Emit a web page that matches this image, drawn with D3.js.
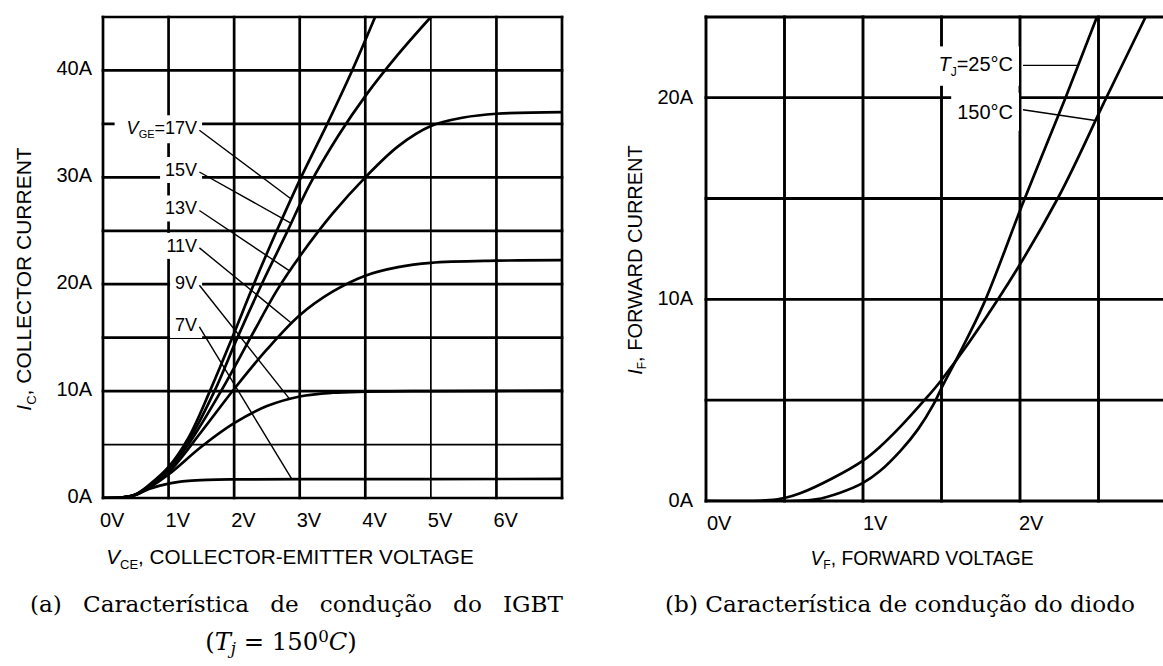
<!DOCTYPE html>
<html>
<head>
<meta charset="utf-8">
<script src="https://cdn.jsdelivr.net/npm/d3@7"></script>
<style>
  body { margin: 0; background: #fff; }
  svg { display: block; }
</style>
</head>
<body>
<svg id="chart" width="1163" height="666"></svg>
<script>
// IGBT output characteristic (Tj = 150°C) and diode forward characteristic
// Points: [volts, amps]

const igbtGateLabels = ['17V', '15V', '13V', '11V', '9V', '7V'];
const igbt17V = [[0, 0], [0.3, 0.05], [0.5, 0.35], [0.7, 1.2], [1.0, 2.9], [1.3, 5.6], [1.63, 10], [1.97, 15], [2.3, 20], [2.65, 25], [3.02, 30], [3.42, 35], [3.8, 40], [4.15, 45]];
const igbt15V = [[0, 0], [0.3, 0.05], [0.5, 0.33], [0.7, 1.15], [1.0, 2.8], [1.3, 5.3], [1.7, 10], [2.05, 15], [2.42, 20], [2.8, 24.8], [3.15, 29.3], [3.6, 34.0], [4.0, 37.6], [4.5, 41.5], [5.0, 45]];
const igbt13V = [[0, 0], [0.3, 0.05], [0.5, 0.3], [0.7, 1.1], [1.0, 2.7], [1.3, 5.0], [1.8, 10], [2.25, 15], [2.65, 19.4], [3.0, 22.6], [3.5, 26.6], [4.0, 30], [4.5, 32.9], [5.0, 34.8], [5.5, 35.6], [6.0, 35.95], [7.0, 36.1]];
const igbt11V = [[0, 0], [0.3, 0.05], [0.5, 0.3], [0.7, 1.0], [1.0, 2.4], [1.5, 6.2], [2.0, 10.2], [2.5, 13.9], [3.0, 17.1], [3.5, 19.3], [4.0, 20.8], [4.5, 21.6], [5.0, 22.0], [6.0, 22.2], [7.0, 22.25]];
const igbt9V = [[0, 0], [0.3, 0.05], [0.5, 0.3], [0.7, 0.95], [1.0, 2.2], [1.5, 4.8], [2.0, 7.0], [2.5, 8.6], [3.0, 9.5], [3.5, 9.85], [4.0, 9.95], [5.0, 10.0], [7.0, 10.05]];
const igbt7V = [[0, 0], [0.3, 0.05], [0.5, 0.3], [0.7, 0.85], [1.0, 1.35], [1.3, 1.6], [1.6, 1.7], [2.0, 1.74], [3.0, 1.76], [7.0, 1.78]];

// where each gate label sits (amps at the label) and where its leader meets the curve (volts)
const igbtLabelAmps = [34.4, 30.5, 26.9, 23.4, 19.9, 16.0];
const igbtLeaderVolts = [2.87, 2.87, 2.85, 2.88, 2.85, 2.88];

const igbtXTicks = [0, 1, 2, 3, 4, 5, 6];
const igbtYTicks = [0, 10, 20, 30, 40];
const igbtXGrid = [0, 1, 2, 3, 4, 5, 6, 7];
const igbtYGrid = [0, 5, 10, 15, 20, 25, 30, 35, 40, 45];

const diodeLabels = ['25°C', '150°C'];
const diode25C = [[0, 0], [0.55, 0], [0.7, 0.08], [0.85, 0.4], [1.0, 0.9], [1.11, 1.5], [1.24, 2.5], [1.35, 3.55], [1.45, 4.8], [1.5, 5.6], [1.6, 7.1], [1.77, 9.8], [2.02, 14.8], [2.29, 20], [2.49, 24]];
const diode150C = [[0, 0], [0.3, 0], [0.4, 0.04], [0.5, 0.15], [0.6, 0.38], [0.8, 1.1], [1.0, 2.0], [1.11, 2.7], [1.24, 3.7], [1.38, 4.9], [1.5, 6.0], [1.86, 10], [2.24, 15], [2.55, 20], [2.8, 24]];
const diodeLabelAmps = [21.6, 19.4];
const diodeLeaderVolts = [2.37, 2.48];

const diodeXTicks = [0, 1, 2];
const diodeYTicks = [0, 10, 20];
const diodeXGrid = [0, 0.5, 1, 1.5, 2, 2.5, 3];
const diodeYGrid = [0, 5, 10, 15, 20, 24];

const SANS = "'Liberation Sans', Arial, sans-serif";
const SERIF = "'DejaVu Serif', serif";

const svg = d3.select('#chart');
svg.append('rect').attr('width', 1163).attr('height', 666).attr('fill', '#fff');

// linear interpolation on a curve, used to land leader lines on it
function ampsAt(points, v) {
    for (let i = 1; i < points.length; i++) {
        if (v <= points[i][0]) {
            const [x0, y0] = points[i - 1];
            const [x1, y1] = points[i];
            return y0 + (y1 - y0) * (v - x0) / (x1 - x0);
        }
    }
    return points[points.length - 1][1];
}

function drawGrid(g, x, y, xs, ys, thin, width) {
    const [x0, x1] = x.domain();
    const [y0, y1] = y.domain();
    g.selectAll('.vgrid').data(xs).enter().append('line')
        .attr('x1', d => x(d)).attr('x2', d => x(d))
        .attr('y1', y(y0)).attr('y2', y(y1))
        .attr('stroke', '#000')
        .attr('stroke-linecap', 'square')
        .attr('stroke-width', d => thin.x.includes(d) ? width - 1 : width);
    g.selectAll('.hgrid').data(ys).enter().append('line')
        .attr('x1', x(x0)).attr('x2', x(x1))
        .attr('y1', d => y(d)).attr('y2', d => y(d))
        .attr('stroke', '#000')
        .attr('stroke-linecap', 'square')
        .attr('stroke-width', d => thin.y.includes(d) ? width - 1 : width);
}

// text made of parts: {t, italic, sub}
function richText(g, x, y, parts, size, anchor) {
    const t = g.append('text')
        .attr('x', x).attr('y', y)
        .attr('text-anchor', anchor)
        .attr('font-family', SANS)
        .attr('font-size', size + 'px')
        .attr('fill', '#000');
    let shifted = false;
    parts.forEach(p => {
        const s = t.append('tspan').text(p.t);
        if (p.italic) s.attr('font-style', 'italic');
        if (p.sub) {
            s.attr('font-size', Math.round(size * 0.62) + 'px').attr('dy', size * 0.22);
            shifted = true;
        } else if (shifted) {
            s.attr('dy', -size * 0.22);
            shifted = false;
        }
    });
    return t;
}

// label with a white box that knocks the grid out behind it
function boxedLabel(g, x, y, parts, size, padX, padY, padLeft) {
    const t = richText(g, x, y, parts, size, 'end');
    const b = t.node().getBBox();
    const left = padLeft === undefined ? padX : padLeft;
    g.insert('rect', () => t.node())
        .attr('x', b.x - left).attr('y', b.y - padY)
        .attr('width', b.width + left + padX).attr('height', b.height + padY * 2)
        .attr('fill', '#fff');
    return t;
}

const line = (x, y) => d3.line()
    .x(d => x(d[0]))
    .y(d => y(d[1]))
    .curve(d3.curveCatmullRom.alpha(0.5));

function clipTo(id, x, y) {
    svg.append('clipPath').attr('id', id).append('rect')
        .attr('x', x.range()[0]).attr('y', y.range()[1])
        .attr('width', x.range()[1] - x.range()[0])
        .attr('height', y.range()[0] - y.range()[1]);
}

// ---------------- (a) IGBT ----------------
const ax = d3.scaleLinear().domain([0, 7]).range([103, 562]);
const ay = d3.scaleLinear().domain([0, 45]).range([498, 17]);
const gA = svg.append('g').attr('class', 'igbt');
clipTo('clipA', ax, ay);

drawGrid(gA, ax, ay, igbtXGrid, igbtYGrid, { x: [5], y: [5] }, 2.7);

const igbtCurves = [igbt17V, igbt15V, igbt13V, igbt11V, igbt9V, igbt7V];

const gLabels = gA.append('g');
igbtGateLabels.forEach((lab, i) => {
    const parts = i === 0
        ? [{ t: 'V', italic: true }, { t: 'GE', sub: true }, { t: '=' + lab }]
        : [{ t: lab }];
    boxedLabel(gLabels, ax(1.45) - 1, ay(igbtLabelAmps[i]) + 4, parts, 18, 5, 3, i === 0 ? 12 : 5);
});

gA.append('g').attr('clip-path', 'url(#clipA)')
    .selectAll('.curve').data(igbtCurves).enter().append('path')
    .attr('class', 'curve')
    .attr('d', line(ax, ay))
    .attr('fill', 'none')
    .attr('stroke', '#000')
    .attr('stroke-width', 2.7);

gA.selectAll('.leader').data(igbtCurves).enter().append('line')
    .attr('class', 'leader')
    .attr('x1', ax(1.47)).attr('y1', (d, i) => ay(igbtLabelAmps[i]))
    .attr('x2', (d, i) => ax(igbtLeaderVolts[i]))
    .attr('y2', (d, i) => ay(ampsAt(d, igbtLeaderVolts[i])))
    .attr('stroke', '#000')
    .attr('stroke-width', 1.4);

gA.selectAll('.xtick').data(igbtXTicks).enter().append('text')
    .attr('x', d => ax(d) - 3).attr('y', 527)
    .attr('font-family', SANS).attr('font-size', '20px')
    .text(d => d + 'V');

gA.selectAll('.ytick').data(igbtYTicks).enter().append('text')
    .attr('x', 92).attr('y', d => ay(d) + 5)
    .attr('text-anchor', 'end')
    .attr('font-family', SANS).attr('font-size', '20px')
    .text(d => d + 'A');

richText(gA, 290, 564, [{ t: 'V', italic: true }, { t: 'CE', sub: true }, { t: ', COLLECTOR-EMITTER VOLTAGE' }], 20.7, 'middle');
richText(gA.append('g').attr('transform', 'translate(31,279) rotate(-90)'), 0, 0,
    [{ t: 'I', italic: true }, { t: 'C', sub: true }, { t: ', COLLECTOR CURRENT' }], 21, 'middle');

// ---------------- (b) diode ----------------
const bx = d3.scaleLinear().domain([0, 3]).range([706, 1177]);
const by = d3.scaleLinear().domain([0, 24]).range([501, 17]);
const gB = svg.append('g').attr('class', 'diode');
clipTo('clipB', bx, by);

drawGrid(gB, bx, by, diodeXGrid, diodeYGrid, { x: [], y: [] }, 2.9);

const diodeCurves = [diode25C, diode150C];

const gLabelsB = gB.append('g');
boxedLabel(gLabelsB, 1013, by(diodeLabelAmps[0]) + 6,
    [{ t: 'T', italic: true }, { t: 'J', sub: true }, { t: '=' + diodeLabels[0] }], 20, 6, 7);
boxedLabel(gLabelsB, 1013, by(diodeLabelAmps[1]) + 9,
    [{ t: diodeLabels[1] }], 20, 6, 8);

gB.append('g').attr('clip-path', 'url(#clipB)')
    .selectAll('.curve').data(diodeCurves).enter().append('path')
    .attr('class', 'curve')
    .attr('d', line(bx, by))
    .attr('fill', 'none')
    .attr('stroke', '#000')
    .attr('stroke-width', 2.7);

gB.selectAll('.leader').data(diodeCurves).enter().append('line')
    .attr('class', 'leader')
    .attr('x1', 1023).attr('y1', (d, i) => by(diodeLabelAmps[i]))
    .attr('x2', (d, i) => bx(diodeLeaderVolts[i]))
    .attr('y2', (d, i) => by(ampsAt(d, diodeLeaderVolts[i])))
    .attr('stroke', '#000')
    .attr('stroke-width', 1.4);

gB.selectAll('.xtick').data(diodeXTicks).enter().append('text')
    .attr('x', d => bx(d) + 1 - d).attr('y', 530)
    .attr('font-family', SANS).attr('font-size', '20px')
    .text(d => d + 'V');

gB.selectAll('.ytick').data(diodeYTicks).enter().append('text')
    .attr('x', 693).attr('y', d => by(d) + 6)
    .attr('text-anchor', 'end')
    .attr('font-family', SANS).attr('font-size', '20px')
    .text(d => d + 'A');

richText(gB, 922, 565, [{ t: 'V', italic: true }, { t: 'F', sub: true }, { t: ', FORWARD VOLTAGE' }], 19.3, 'middle');
richText(gB.append('g').attr('transform', 'translate(642,260) rotate(-90)'), 0, 0,
    [{ t: 'I', italic: true }, { t: 'F', sub: true }, { t: ', FORWARD CURRENT' }], 20, 'middle');

// ---------------- captions ----------------
const capB = svg.append('text')
    .attr('x', 900).attr('y', 612)
    .attr('text-anchor', 'middle')
    .attr('font-family', SERIF).attr('font-size', '21px')
    .text('(b) Característica de condução do diodo');
const capSize = 21 * 470 / capB.node().getComputedTextLength();
capB.attr('font-size', capSize + 'px');

// (a) is justified across the panel width
const capAWords = ['(a)', 'Característica', 'de', 'condução', 'do', 'IGBT'];
const capA = svg.append('g');
const wordNodes = capAWords.map(w => capA.append('text')
    .attr('y', 612)
    .attr('font-family', SERIF).attr('font-size', capSize + 'px')
    .text(w));
const widths = wordNodes.map(n => n.node().getComputedTextLength());
const gap = (563 - 30 - d3.sum(widths)) / (capAWords.length - 1);
let cx = 30;
wordNodes.forEach((n, i) => { n.attr('x', cx); cx += widths[i] + gap; });

const capA2 = svg.append('text')
    .attr('x', 281).attr('y', 650)
    .attr('text-anchor', 'middle')
    .attr('font-family', SERIF).attr('font-size', (capSize * 1.05) + 'px');
capA2.append('tspan').text('(');
capA2.append('tspan').attr('font-style', 'italic').text('T');
capA2.append('tspan').attr('font-style', 'italic').attr('font-size', (capSize * 0.72) + 'px').attr('dy', 4).text('j');
capA2.append('tspan').attr('dy', -4).text(' = 150');
capA2.append('tspan').attr('font-size', (capSize * 0.72) + 'px').attr('dy', -8).text('0');
capA2.append('tspan').attr('font-style', 'italic').attr('dy', 8).text('C');
capA2.append('tspan').text(')');
</script>
</body>
</html>
